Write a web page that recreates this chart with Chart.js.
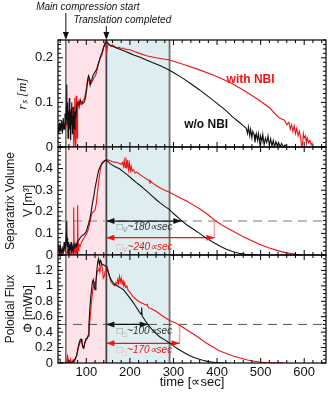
<!DOCTYPE html>
<html>
<head>
<meta charset="utf-8">
<title>Separatrix decay with and without NBI</title>
<script src="https://cdn.jsdelivr.net/npm/chart.js@4.4.1/dist/chart.umd.min.js"></script>
<style>
  html, body { margin: 0; padding: 0; background: #fff; }
  #stage { position: relative; width: 328px; height: 396px; }
  #stage canvas { position: absolute; left: 0; top: 0; }
</style>
</head>
<body>
<div id="stage">
  <canvas id="rs" width="328" height="396"></canvas>
  <canvas id="vol" width="328" height="396"></canvas>
  <canvas id="flux" width="328" height="396"></canvas>
</div>
<script>
// ---- data (time in usec) ----
const timeMin = 35;
const timeMax = 650;
const timeTicks = [100, 200, 300, 400, 500, 600];
const rsTicks = [0, 0.1, 0.2];
const volumeTicks = [0, 0.1, 0.2, 0.3, 0.4];
const fluxTicks = [0, 0.2, 0.4, 0.6, 0.8, 1, 1.2];

// main compression start, translation completed, end of shaded window
const phaseTimes = [53, 146, 291];

// decay-time markers: [w/o NBI, with NBI]
const volumeLevel = 0.157;
const volumeArrowEnds = [318, 394];
const volumeArrowLevels = [0.157, 0.08];
const fluxLevel = 0.5;
const fluxArrowEnds = [241, 314];
const fluxArrowLevels = [0.5, 0.255];

const rsWoNbi = [[35,0.045],[37,0.03],[39,0.055],[41,0.035],[43,0.06],[45,0.03],[47,0.065],[49,0.04],[51,0.075],[53,0.05],[54,0.09],[55,0.14],[56,0.06],[57,0.1],[58,0.02],[59,0.08],[60,0.035],[61,0.11],[62,0.04],[63,0.075],[64,0.015],[65,0.085],[66,0.05],[67,0.1],[68,0.03],[69,0.07],[70,0.05],[71,0.09],[72,0.04],[74,0.08],[76,0.07],[78,0.09],[80,0.1],[83,0.095],[86,0.105],[89,0.1],[92,0.098],[95,0.1],[98,0.11],[101,0.13],[103,0.15],[105,0.16],[107,0.155],[109,0.14],[111,0.15],[113,0.152],[115,0.16],[118,0.165],[121,0.17],[124,0.175],[127,0.185],[130,0.195],[133,0.205],[136,0.212],[139,0.222],[142,0.23],[145,0.235],[147,0.236],[150,0.232],[155,0.228],[160,0.226],[170,0.222],[180,0.218],[190,0.214],[200,0.21],[210,0.206],[222,0.202],[235,0.196],[250,0.19],[270,0.182],[291,0.172],[300,0.167],[320,0.155],[340,0.142],[360,0.128],[380,0.113],[405,0.094],[420,0.082],[435,0.068],[450,0.056],[460,0.048],[467,0.042],[470,0.03],[472,0.045],[475,0.025],[477,0.04],[480,0.02],[482,0.035],[485,0.028],[487,0.01],[490,0.03],[493,0.015],[495,0.03],[498,0.008],[500,0.025],[503,0.012],[505,0.028],[508,0.005],[511,0.02],[514,0.01],[517,0.025],[520,0.004],[523,0.018],[526,0.002],[529,0.015],[532,0],[535,0.012],[538,0.003],[541,0.01],[545,0],[548,0.008],[552,0],[556,0.005],[560,0]];
const rsWithNbi = [[35,0.04],[38,0.05],[41,0.045],[44,0.05],[47,0.04],[50,0.05],[53,0.045],[56,0.06],[58,0.05],[60,0.07],[62,0.045],[64,0.08],[66,0.05],[68,0.09],[69,0.03],[70,0.06],[71,0],[72,0.04],[73,0.11],[74,0.05],[75,0],[76,0.09],[77,0.115],[78,0.06],[79,0.02],[80,0.08],[82,0.1],[84,0.09],[86,0.105],[88,0.095],[90,0.1],[93,0.105],[96,0.11],[99,0.125],[102,0.145],[104,0.152],[106,0.148],[108,0.14],[111,0.142],[114,0.148],[117,0.155],[120,0.158],[123,0.166],[126,0.18],[129,0.19],[132,0.2],[135,0.204],[138,0.215],[141,0.228],[143,0.234],[145,0.226],[147,0.215],[149,0.228],[151,0.232],[154,0.228],[157,0.226],[160,0.229],[163,0.227],[167,0.224],[170,0.222],[175,0.224],[180,0.221],[185,0.222],[190,0.219],[200,0.218],[210,0.214],[222,0.21],[240,0.204],[260,0.2],[291,0.195],[320,0.186],[360,0.173],[395,0.16],[428,0.146],[460,0.128],[497,0.105],[520,0.088],[543,0.065],[555,0.06],[560,0.05],[565,0.055],[568,0.04],[571,0.05],[574,0.035],[577,0.048],[580,0.03],[583,0.042],[586,0.025],[589,0.035],[592,0.02],[594,0],[596,0.005],[598,0.03],[600,0.02],[603,0.025],[605,0.008],[607,0.02],[610,0.01],[613,0.015],[616,0.005],[619,0.01]];

const volWoNbi = [[35,0.02],[37,0.05],[39,0.01],[41,0.04],[43,0],[45,0.03],[47,0.01],[49,0.06],[51,0.02],[53,0.05],[54,0.1],[55,0.16],[56,0.04],[57,0.08],[58,0.01],[59,0.06],[60,0],[62,0.05],[63,0.02],[65,0.06],[66,0.01],[68,0.04],[70,0.02],[72,0.05],[74,0.03],[76,0.05],[78,0.04],[80,0.06],[83,0.07],[86,0.08],[90,0.09],[94,0.095],[97,0.1],[100,0.11],[103,0.13],[106,0.15],[108,0.165],[111,0.2],[114,0.24],[117,0.27],[120,0.31],[124,0.35],[128,0.39],[132,0.41],[137,0.425],[142,0.435],[146,0.44],[150,0.432],[155,0.422],[160,0.416],[165,0.41],[170,0.405],[177,0.398],[185,0.385],[195,0.37],[205,0.352],[215,0.335],[222,0.324],[230,0.311],[240,0.293],[250,0.275],[260,0.257],[270,0.24],[280,0.225],[291,0.21],[300,0.192],[318,0.16],[330,0.14],[345,0.12],[360,0.1],[375,0.078],[390,0.06],[405,0.043],[420,0.028],[435,0.016],[450,0.008],[465,0.003],[480,0.001],[490,0]];
const volWithNbi = [[35,0.01],[40,0.015],[45,0.01],[50,0.02],[55,0.01],[58,0.02],[60,0.005],[62,0.02],[64,0],[66,0.01],[68,0.02],[70,0],[71,0.22],[72,0.01],[74,0.03],[76,0.01],[78,0.06],[79,0],[80,0.23],[81,0.02],[83,0.05],[86,0.04],[89,0.06],[92,0.07],[95,0.08],[98,0.09],[101,0.1],[104,0.116],[107,0.14],[110,0.17],[113,0.194],[116,0.2],[120,0.208],[123,0.24],[126,0.3],[129,0.35],[132,0.39],[135,0.425],[140,0.436],[146,0.442],[150,0.44],[155,0.436],[160,0.432],[165,0.43],[170,0.428],[175,0.425],[180,0.42],[183,0.428],[185,0.41],[187,0.438],[189,0.405],[191,0.45],[193,0.4],[195,0.44],[197,0.395],[199,0.425],[201,0.39],[203,0.41],[205,0.388],[208,0.395],[212,0.38],[216,0.384],[222,0.374],[230,0.363],[240,0.35],[245,0.345],[246,0.33],[247,0.343],[250,0.336],[260,0.322],[270,0.31],[280,0.3],[291,0.29],[310,0.27],[330,0.25],[345,0.232],[360,0.214],[375,0.193],[394,0.162],[410,0.14],[435,0.112],[460,0.085],[480,0.066],[497,0.05],[520,0.032],[543,0.018],[560,0.01],[581,0.003],[592,0]];

const fluxWoNbi = [[35,0],[50,0],[60,0],[65,0],[70,0.02],[75,0.06],[78,0.1],[80,0.17],[83,0.25],[86,0.3],[88,0.31],[90,0.27],[92,0.2],[94,0.19],[96,0.25],[98,0.3],[100,0.32],[102,0.32],[104,0.35],[106,0.5],[108,0.7],[110,0.85],[112,0.95],[114,1.05],[116,1.08],[118,1],[120,0.95],[122,1.05],[124,1.2],[126,1.3],[128,1.35],[130,1.28],[132,1.33],[134,1.3],[136,1.28],[140,1.27],[146,1.25],[150,1.18],[155,1.1],[160,1.05],[165,1.02],[170,1],[177,0.98],[185,0.95],[195,0.88],[207,0.79],[215,0.72],[222,0.66],[226,0.63],[227,0.72],[228,0.61],[235,0.55],[241,0.5],[250,0.44],[260,0.38],[268,0.34],[280,0.3],[291,0.26],[305,0.2],[320,0.15],[335,0.1],[350,0.065],[365,0.038],[380,0.018],[395,0.007],[410,0.002],[425,0]];
const fluxWithNbi = [[35,0],[50,0],[55,0.02],[57,0.11],[58,0],[60,0.03],[62,0],[64,0.05],[66,0],[68,0.02],[70,0.04],[72,0.01],[75,0.05],[78,0.1],[80,0.15],[83,0.22],[86,0.27],[88,0.29],[90,0.26],[92,0.22],[94,0.2],[96,0.24],[98,0.28],[100,0.3],[103,0.33],[106,0.4],[109,0.6],[112,0.8],[115,0.95],[117,1],[119,1.04],[121,1],[123,1.1],[125,1.18],[127,1.2],[129,1.24],[131,1.18],[133,1.26],[135,1.3],[137,1.22],[139,1.1],[141,1.12],[143,1.18],[146,1.22],[148,1.24],[150,1.2],[153,1.12],[156,1.06],[160,1.03],[165,1],[168,1.04],[170,1.02],[172,1.08],[174,1.03],[176,1.12],[178,1.05],[180,1.1],[182,1.02],[184,1.08],[186,1],[188,1.04],[190,0.98],[193,1],[196,0.94],[200,0.92],[207,0.86],[215,0.82],[222,0.79],[230,0.77],[237,0.75],[240,0.76],[242,0.72],[250,0.7],[260,0.67],[275,0.61],[291,0.55],[305,0.52],[314,0.49],[330,0.43],[345,0.38],[360,0.32],[375,0.26],[390,0.21],[405,0.16],[420,0.125],[435,0.095],[451,0.067],[470,0.04],[485,0.022],[497,0.012],[515,0.004],[535,0.001],[553,0]];

// ---- styling ----
const BLACK = '#111';
const RED = '#f01414';
const PALE_RED = '#f4a2a2';
const SANS = "'Liberation Sans', Arial, sans-serif";
const NARROW = "'Liberation Sans Narrow', 'Liberation Sans', sans-serif";
const TICK_FONT = { family: SANS, size: 13 };

const xy = (pts) => pts.map(([x, y]) => ({ x, y }));
const curve = (pts, color) => ({
  data: xy(pts), borderColor: color, borderWidth: 1.1, pointRadius: 0, tension: 0,
});
const hline = (y, color, width) => ({
  data: [{ x: timeMin, y }, { x: timeMax, y }],
  borderColor: color, borderWidth: width, borderDash: [9, 6], pointRadius: 0,
});
const arrow = (x1, y, color) => ({
  data: [{ x: phaseTimes[1], y }, { x: x1, y }],
  borderColor: color, borderWidth: 1.3, pointRadius: 0, arrowHeads: true,
});
const drop = (x, y0, y1) => ({
  data: [{ x, y: y0 }, { x, y: y1 }], borderColor: PALE_RED, borderWidth: 1.5, pointRadius: 0,
});

// per-panel decoration: inner tick steps and text notes (anchored in data units)
const extras = {
  rs: {
    yStep: 0.01, yMajor: 0.1,
    notes: [
      { t: 477, v: 0.15, text: 'with NBI', color: RED, font: `bold 12px ${SANS}` },
      { t: 375, v: 0.049, text: 'w/o NBI', color: BLACK, font: `bold 12px ${SANS}` },
    ],
    headers: [
      { time: phaseTimes[0], text: 'Main compression start', textY: 7, lineTop: 13, dx: 22 },
      { time: phaseTimes[1], text: 'Translation completed', textY: 20, lineTop: 26, dx: 16 },
    ],
  },
  vol: {
    yStep: 0.02, yMajor: 0.1,
    taus: [
      { t: 170, v: 0.13, sub: 'V', text: '~180\u221dsec', color: '#333', box: '#888' },
      { t: 170, v: 0.038, sub: 'V', text: '~240\u221dsec', color: RED, box: PALE_RED },
    ],
  },
  flux: {
    yStep: 0.05, yMajor: 0.2,
    taus: [
      { t: 170, v: 0.406, sub: '\u25a1', text: '~100\u221dsec', color: '#333', box: '#888' },
      { t: 170, v: 0.16, sub: '\u25a1', text: '~170\u221dsec', color: RED, box: PALE_RED },
    ],
  },
};

function innerTicks(ctx, scale, a, step, major, horizontal) {
  const n0 = Math.ceil(scale.min / step - 1e-6);
  const n1 = Math.floor(scale.max / step + 1e-6);
  ctx.beginPath();
  for (let n = n0; n <= n1; n++) {
    const v = n * step;
    const r = v / major;
    const len = Math.abs(r - Math.round(r)) < 1e-6 ? 5 : 3;
    const p = scale.getPixelForValue(v);
    if (horizontal) {
      ctx.moveTo(p, a.top); ctx.lineTo(p, a.top + len);
      ctx.moveTo(p, a.bottom); ctx.lineTo(p, a.bottom - len);
    } else {
      ctx.moveTo(a.left, p); ctx.lineTo(a.left + len, p);
      ctx.moveTo(a.right, p); ctx.lineTo(a.right - len, p);
    }
  }
  ctx.stroke();
}

function arrowHead(ctx, tipX, tipY, dir, color) {
  ctx.fillStyle = color;
  ctx.beginPath();
  ctx.moveTo(tipX, tipY);
  ctx.lineTo(tipX - dir * 8, tipY - 3);
  ctx.lineTo(tipX - dir * 8, tipY + 3);
  ctx.closePath();
  ctx.fill();
}

const panelDecor = {
  id: 'panelDecor',
  beforeDatasetsDraw(chart) {
    const { ctx, chartArea: a, scales: { x } } = chart;
    const [p0, p1, p2] = phaseTimes.map((t) => x.getPixelForValue(t));
    ctx.save();
    ctx.fillStyle = '#fde2ea';
    ctx.fillRect(p0, a.top, p1 - p0, a.bottom - a.top);
    ctx.fillStyle = '#deedef';
    ctx.fillRect(p1, a.top, p2 - p1, a.bottom - a.top);
    [[p0, '#444', 1.2], [p1, '#444', 1.8], [p2, '#707070', 1.8]].forEach(([p, c, w]) => {
      ctx.strokeStyle = c;
      ctx.lineWidth = w;
      ctx.beginPath();
      ctx.moveTo(p, a.top);
      ctx.lineTo(p, a.bottom);
      ctx.stroke();
    });
    ctx.restore();
  },
  afterDatasetsDraw(chart) {
    const { ctx, chartArea: a, scales: { x, y } } = chart;
    const e = extras[chart.canvas.id];
    ctx.save();

    chart.data.datasets.forEach((ds, i) => {
      if (!ds.arrowHeads) return;
      const pts = chart.getDatasetMeta(i).data;
      arrowHead(ctx, pts[0].x, pts[0].y, -1, ds.borderColor);
      arrowHead(ctx, pts[1].x, pts[1].y, 1, ds.borderColor);
    });

    ctx.strokeStyle = '#000';
    ctx.lineWidth = 1.2;
    ctx.strokeRect(a.left, a.top, a.right - a.left, a.bottom - a.top);
    ctx.lineWidth = 1;
    innerTicks(ctx, x, a, 20, 100, true);
    innerTicks(ctx, y, a, e.yStep, e.yMajor, false);

    ctx.textBaseline = 'middle';
    (e.notes || []).forEach((n) => {
      ctx.font = n.font;
      ctx.fillStyle = n.color;
      ctx.textAlign = 'center';
      ctx.fillText(n.text, x.getPixelForValue(n.t), y.getPixelForValue(n.v));
    });

    (e.taus || []).forEach((n) => {
      let px = x.getPixelForValue(n.t);
      const py = y.getPixelForValue(n.v);
      ctx.textAlign = 'left';
      ctx.font = `italic 10px ${SANS}`;
      ctx.fillStyle = n.box;
      ctx.fillText('\u25a1', px, py);
      px += ctx.measureText('\u25a1').width;
      ctx.font = `italic 7px ${SANS}`;
      ctx.fillText(n.sub, px, py + 3);
      px += ctx.measureText(n.sub).width;
      ctx.font = `italic 10px ${SANS}`;
      ctx.fillStyle = n.color;
      ctx.fillText(n.text, px, py);
    });

    (e.headers || []).forEach((h) => {
      const px = x.getPixelForValue(h.time);
      ctx.font = `italic 10px ${SANS}`;
      ctx.fillStyle = BLACK;
      ctx.textAlign = 'center';
      ctx.fillText(h.text, px + h.dx, h.textY);
      ctx.strokeStyle = '#333';
      ctx.lineWidth = 1.2;
      ctx.beginPath();
      ctx.moveTo(px, h.lineTop);
      ctx.lineTo(px, a.top - 6);
      ctx.stroke();
      ctx.fillStyle = '#111';
      ctx.beginPath();
      ctx.moveTo(px, a.top);
      ctx.lineTo(px - 3, a.top - 8);
      ctx.lineTo(px + 3, a.top - 8);
      ctx.closePath();
      ctx.fill();
    });
    ctx.restore();
  },
};

function makePanel(id, cfg) {
  const last = !!cfg.timeAxis;
  return new Chart(document.getElementById(id), {
    type: 'line',
    data: { datasets: cfg.datasets },
    options: {
      responsive: false,
      animation: false,
      events: [],
      layout: { padding: { top: cfg.top, bottom: last ? 0 : 396 - cfg.bottom, left: 0, right: 2 } },
      plugins: { legend: { display: false }, tooltip: { enabled: false } },
      scales: {
        x: {
          type: 'linear',
          display: last,
          min: timeMin,
          max: timeMax,
          afterFit: (s) => { s.height = last ? 396 - cfg.bottom : 0; },
          afterBuildTicks: (s) => { s.ticks = timeTicks.map((v) => ({ value: v })); },
          grid: { display: false, drawTicks: false },
          border: { display: false },
          ticks: { padding: 2, autoSkip: false, maxRotation: 0, color: '#111', font: TICK_FONT },
          title: {
            display: true, text: 'time [\u221dsec]', color: '#111',
            font: { family: SANS, size: 13 }, padding: { top: 0, bottom: 6 },
          },
        },
        y: {
          min: 0,
          max: cfg.yMax,
          afterFit: (s) => { s.width = 58; },
          afterBuildTicks: (s) => { s.ticks = cfg.ticks.map((v) => ({ value: v })); },
          grid: { display: false, drawTicks: false },
          border: { display: false },
          ticks: { padding: 5, autoSkip: false, color: '#111', font: TICK_FONT, callback: (v) => String(v) },
          title: { display: true, text: cfg.title, color: '#111', font: cfg.titleFont, padding: cfg.titlePad },
        },
      },
    },
    plugins: [panelDecor],
  });
}

makePanel('rs', {
  top: 40, bottom: 147, yMax: 0.24, ticks: rsTicks,
  title: 'r\u209b [m]',
  titleFont: { family: "'Liberation Serif', serif", size: 13, style: 'italic' },
  titlePad: { top: 15, bottom: 0 },
  datasets: [curve(rsWoNbi, BLACK), curve(rsWithNbi, RED)],
});

makePanel('vol', {
  top: 147, bottom: 255, yMax: 0.5, ticks: volumeTicks,
  title: ['Separatrix Volume', 'V [m\u00b3]'],
  titleFont: { family: NARROW, size: 12, lineHeight: 1.55 },
  titlePad: { top: 1, bottom: 0 },
  datasets: [
    curve(volWoNbi, BLACK), curve(volWithNbi, RED),
    arrow(volumeArrowEnds[0], volumeArrowLevels[0], BLACK),
    arrow(volumeArrowEnds[1], volumeArrowLevels[1], RED),
    drop(volumeArrowEnds[1], volumeLevel, volumeArrowLevels[1]),
    hline(volumeLevel, '#a8a8a8', 1.5),
  ],
});

makePanel('flux', {
  top: 255, bottom: 363, yMax: 1.4, ticks: fluxTicks, timeAxis: true,
  title: ['Poloidal Flux', '\u03a6 [mWb]'],
  titleFont: { family: NARROW, size: 12, lineHeight: 1.55 },
  titlePad: { top: 1, bottom: 0 },
  datasets: [
    curve(fluxWoNbi, BLACK), curve(fluxWithNbi, RED),
    arrow(fluxArrowEnds[0], fluxArrowLevels[0], BLACK),
    arrow(fluxArrowEnds[1], fluxArrowLevels[1], RED),
    drop(fluxArrowEnds[1], fluxLevel, fluxArrowLevels[1]),
    hline(fluxLevel, '#555', 1),
  ],
});
</script>
</body>
</html>
